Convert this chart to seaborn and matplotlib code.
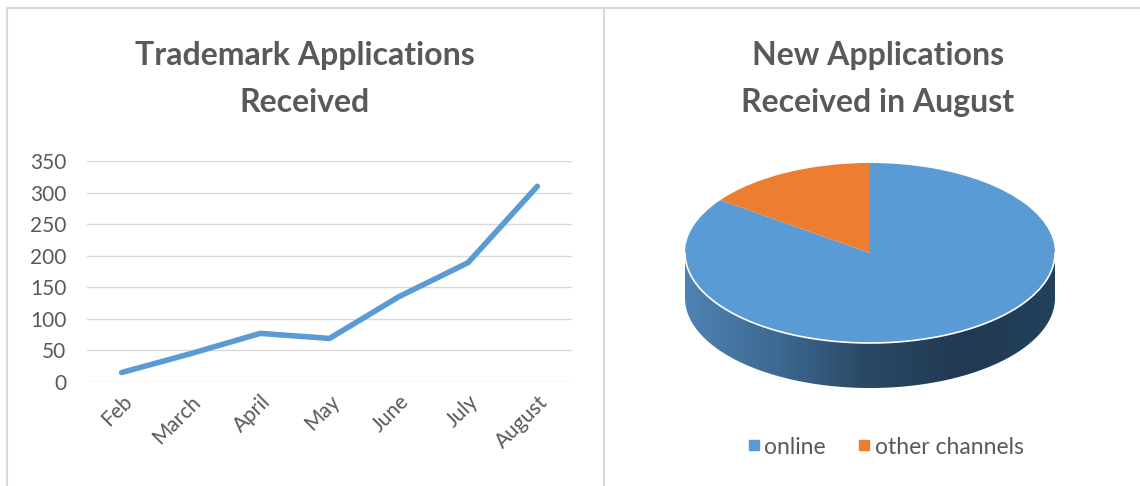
import numpy as np
import pandas as pd
import matplotlib
matplotlib.use('Agg')
import matplotlib.pyplot as plt
import matplotlib.colors as mcolors
from matplotlib.lines import Line2D
from matplotlib.patches import Polygon
import seaborn as sns

months = ['Feb', 'March', 'April', 'May', 'June', 'July', 'August']
applications = [15, 45, 77, 69, 135, 189, 310]

channels = ['online', 'other channels']
channel_share = [85, 15]
channel_colors = ['#5b9bd5', '#ed7d31']

sns.set_theme(style='white')
plt.rcParams['font.family'] = ['Lato', 'DejaVu Sans']
grey = '#595959'

fig = plt.figure(figsize=(11.4, 4.86), dpi=100)
W, H = 1140, 486

# line chart
ax = fig.add_axes([87 / W, 1 - 382 / H, (572 - 87) / W, (382 - 161) / H])
df = pd.DataFrame({'month': months, 'count': applications})
sns.lineplot(data=df, x='month', y='count', sort=False, color='#5b9bd5', lw=4,
             solid_capstyle='round', ax=ax)
ax.set_xlim(-0.5, len(months) - 0.5)
ax.set_ylim(0, 350)
ax.set_yticks(range(0, 351, 50))
ax.grid(axis='y', color='#d9d9d9', lw=1)
ax.set_axisbelow(True)
for s in ax.spines.values():
    s.set_visible(False)
ax.set_xlabel('')
ax.set_ylabel('')
ax.tick_params(length=0, labelsize=15, labelcolor=grey, pad=7)
ax.tick_params(axis='y', pad=15)
for lab in ax.get_xticklabels():
    lab.set_rotation(45)
    lab.set_ha('right')
    lab.set_rotation_mode('anchor')

# pie chart with a flat 3d look
pax = fig.add_axes([640 / W, 1 - 420 / H, 460 / W, 290 / H])
pax.pie(channel_share, colors=channel_colors, startangle=90, counterclock=False,
        wedgeprops=dict(linewidth=0))
pax.set_aspect('auto')
pax.axis('off')

depth = 0.5
t = np.linspace(np.pi, 2 * np.pi, 200)
top = np.column_stack([np.cos(t), np.sin(t)])
bot = np.column_stack([np.cos(t[::-1]), np.sin(t[::-1]) - depth])
side = Polygon(np.vstack([top, bot]), closed=True, facecolor='none', edgecolor='none')
pax.add_patch(side)
side_cmap = mcolors.LinearSegmentedColormap.from_list(
    'side', ['#4f82b3', '#3d6992', '#2a4763', '#213a52', '#24405b'])
grad = np.linspace(0, 1, 256).reshape(1, -1)
im = pax.imshow(grad, cmap=side_cmap, extent=(-1, 1, -1 - depth, 0), aspect='auto',
                zorder=0.5)
im.set_clip_path(side)
pax.plot(np.cos(t), np.sin(t), color='white', lw=1.2, zorder=3)
pax.set_xlim(-230 / 185, 230 / 185)
pax.set_ylim(-167 / 90, 123 / 90)

handles = [Line2D([], [], marker='s', ls='', color=c, markersize=6.5) for c in channel_colors]
fig.legend(handles, channels, loc='center', bbox_to_anchor=(884 / W, 1 - 447 / H),
           ncol=2, frameon=False, fontsize=16.5, labelcolor=grey, handletextpad=0.05,
           handlelength=0.8, columnspacing=1.3)

# titles
fig.text(305 / W, 1 - 79 / H, 'Trademark Applications\nReceived', ha='center', va='center',
         fontsize=23, fontweight='bold', color=grey, linespacing=1.75)
fig.text(878 / W, 1 - 79 / H, 'New Applications\nReceived in August', ha='center',
         va='center', fontsize=23, fontweight='bold', color=grey, linespacing=1.75)

# panel borders
bc = '#d9d9d9'
fig.add_artist(Line2D([7 / W, 1], [1 - 8 / H, 1 - 8 / H], color=bc, lw=1.5))
fig.add_artist(Line2D([7 / W, 7 / W], [0, 1 - 8 / H], color=bc, lw=1.5))
fig.add_artist(Line2D([604 / W, 604 / W], [0, 1 - 8 / H], color=bc, lw=1.5))

fig.savefig('out.png', dpi=100, facecolor='white')
